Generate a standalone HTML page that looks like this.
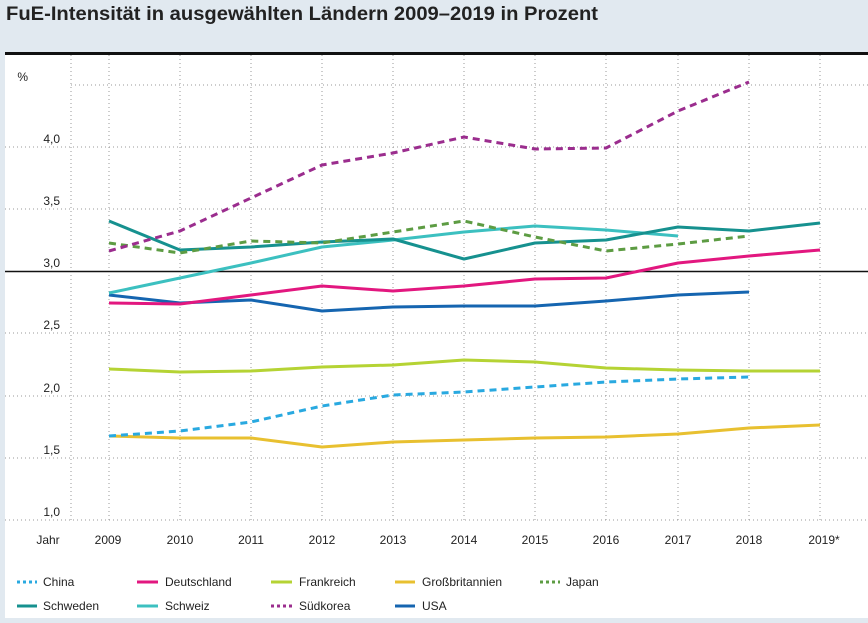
<!DOCTYPE html>
<html><head><meta charset="utf-8"><style>
body{margin:0;width:868px;height:618px;overflow:hidden;background:#e1e9f0;font-family:"Liberation Sans",sans-serif}
svg text{font-family:"Liberation Sans",sans-serif}
</style></head><body>
<svg width="868" height="618" viewBox="0 0 868 618" xmlns="http://www.w3.org/2000/svg">
<rect x="0" y="0" width="868" height="618" fill="#e1e9f0"/>
<rect x="5" y="53" width="863" height="565" fill="#fff"/>
<text x="6" y="20" font-size="19" font-weight="bold" fill="#222" textLength="592" lengthAdjust="spacingAndGlyphs">FuE-Intensität in ausgewählten Ländern 2009–2019 in Prozent</text>
<line x1="5" y1="53.5" x2="868" y2="53.5" stroke="#111" stroke-width="3"/>
<g stroke="#999" stroke-width="1" stroke-dasharray="1,3">
<line x1="71" y1="55" x2="71" y2="520"/>
<line x1="109" y1="55" x2="109" y2="520"/><line x1="180" y1="55" x2="180" y2="520"/><line x1="251" y1="55" x2="251" y2="520"/><line x1="322" y1="55" x2="322" y2="520"/><line x1="393" y1="55" x2="393" y2="520"/><line x1="464" y1="55" x2="464" y2="520"/><line x1="535" y1="55" x2="535" y2="520"/><line x1="606" y1="55" x2="606" y2="520"/><line x1="678" y1="55" x2="678" y2="520"/><line x1="749" y1="55" x2="749" y2="520"/><line x1="820" y1="55" x2="820" y2="520"/>
<line x1="71" y1="85" x2="868" y2="85"/>
<line x1="5" y1="147" x2="868" y2="147"/><line x1="5" y1="209" x2="868" y2="209"/><line x1="5" y1="333" x2="868" y2="333"/><line x1="5" y1="396" x2="868" y2="396"/><line x1="5" y1="458" x2="868" y2="458"/><line x1="5" y1="520" x2="868" y2="520"/>
</g>
<line x1="5" y1="271.5" x2="868" y2="271.5" stroke="#111" stroke-width="1.5"/>
<g font-size="12" fill="#222" text-anchor="end">
<text x="28" y="81">%</text>
<text x="60" y="143">4,0</text><text x="60" y="205">3,5</text><text x="60" y="267">3,0</text><text x="60" y="329">2,5</text><text x="60" y="392">2,0</text><text x="60" y="454">1,5</text><text x="60" y="516">1,0</text>
</g>
<g font-size="12" fill="#222" text-anchor="middle">
<text x="48" y="544">Jahr</text><text x="108" y="544">2009</text><text x="180" y="544">2010</text><text x="251" y="544">2011</text><text x="322" y="544">2012</text><text x="393" y="544">2013</text><text x="464" y="544">2014</text><text x="535" y="544">2015</text><text x="606" y="544">2016</text><text x="678" y="544">2017</text><text x="749" y="544">2018</text><text x="824" y="544">2019*</text>
</g>
<g fill="none" stroke-width="3" stroke-linejoin="round">
<polyline stroke="#e8c030" points="109,436 180,438 251,438 322,447 393,442 464,440 535,438 606,437 678,434 749,428 820,425"/>
<polyline stroke="#b5d334" points="109,369 180,372 251,371 322,367 393,365 464,360 535,362 606,368 678,370 749,371 820,371"/>
<polyline stroke="#29a9e0" stroke-dasharray="7,5" points="109,436 180,431 251,422 322,406 393,395 464,392 535,387 606,382 678,379 749,377"/>
<polyline stroke="#1565b0" points="109,295 180,303 251,300 322,311 393,307 464,306 535,306 606,301 678,295 749,292"/>
<polyline stroke="#e2177f" points="109,303 180,304 251,295 322,286 393,291 464,286 535,279 606,278 678,263 749,256 820,250"/>
<polyline stroke="#3cc0c0" points="109,293 180,278 251,263 322,247 393,240 464,232 535,226 606,230 678,236"/>
<polyline stroke="#16918f" points="109,221 180,250 251,247 322,242 393,239 464,259 535,243 606,240 678,227 749,231 820,223"/>
<polyline stroke="#5d9c43" stroke-dasharray="7,5" points="109,243 180,253 251,241 322,243 393,232 464,221 535,237 606,251 678,244 749,236"/>
<polyline stroke="#9b2d8e" stroke-dasharray="7,5" points="109,251 180,231 251,198 322,165 393,153 464,137 535,149 606,148 678,111 749,82"/>
</g>
<g stroke-width="3">
<line x1="17" y1="582" x2="37" y2="582" stroke="#29a9e0" stroke-dasharray="3,3"/>
<line x1="137" y1="582" x2="158" y2="582" stroke="#e2177f"/>
<line x1="271" y1="582" x2="292" y2="582" stroke="#b5d334"/>
<line x1="395" y1="582" x2="415" y2="582" stroke="#e8c030"/>
<line x1="540" y1="582" x2="560" y2="582" stroke="#5d9c43" stroke-dasharray="3,3"/>
<line x1="17" y1="606" x2="37" y2="606" stroke="#16918f"/>
<line x1="137" y1="606" x2="158" y2="606" stroke="#3cc0c0"/>
<line x1="271" y1="606" x2="292" y2="606" stroke="#9b2d8e" stroke-dasharray="3,3"/>
<line x1="395" y1="606" x2="415" y2="606" stroke="#1565b0"/>
</g>
<g font-size="12" fill="#222">
<text x="43" y="586">China</text><text x="165" y="586">Deutschland</text><text x="299" y="586">Frankreich</text><text x="422" y="586">Großbritannien</text><text x="566" y="586">Japan</text>
<text x="43" y="610">Schweden</text><text x="165" y="610">Schweiz</text><text x="299" y="610">Südkorea</text><text x="422" y="610">USA</text>
</g>
</svg>
</body></html>
